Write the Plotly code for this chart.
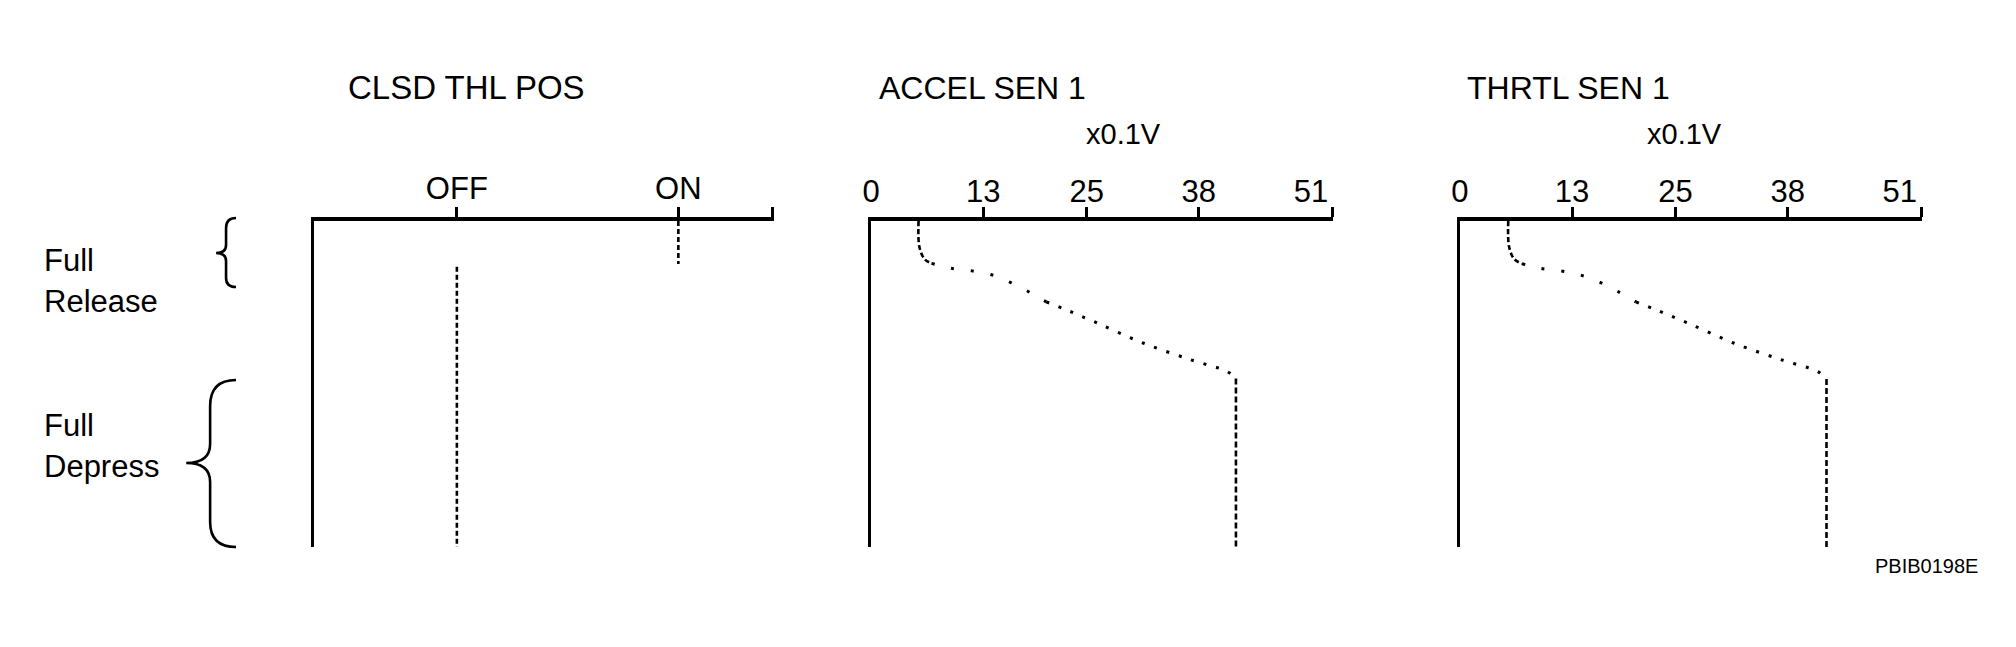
import plotly.graph_objects as go

# the page body keeps its default 8px margin, so the figure is drawn 8px in
OFF = 8
W, H = 2000, 631

# pedal stroke: 0 = full release (top), 100 = full depress (bottom)
clsd_state = [1, 0]          # 1 = ON, 0 = OFF
clsd_from = [0, 14.0]
clsd_to = [13.2, 100]
clsd_ticks = ["OFF", "ON"]

# sensor voltage in x0.1V vs pedal stroke
accel_v = [5.5, 5.6, 6.2, 7.0, 9.3, 11.7, 14.1, 16.2, 18.4, 20.3, 22.4, 26.3, 31.6, 37.1, 41.3, 42.3, 42.3]
accel_pos = [0, 8.0, 11.7, 13.0, 14.5, 15.3, 16.6, 18.9, 21.9, 24.8, 27.0, 31.4, 37.5, 42.6, 46.2, 48.3, 100]

thrtl_v = [5.6, 5.7, 6.3, 7.2, 9.3, 11.7, 14.0, 16.3, 18.5, 20.4, 22.5, 26.5, 31.8, 37.3, 41.5, 42.5, 42.5]
thrtl_pos = [0, 8.0, 11.7, 13.1, 14.5, 15.3, 16.6, 18.9, 21.9, 24.8, 27.0, 31.4, 37.5, 42.6, 46.2, 48.5, 100]

volt_ticks = [0, 13, 25, 38, 51]
volt_marks = [13, 25, 38]

FONT = "Liberation Sans, Arial, sans-serif"
BLACK = "black"


def px(x):
    return (x - OFF) / W


def py(y):
    return 1 - (y - OFF) / H


y_dom = [py(547), py(221)]

fig = go.Figure()

# CLSD THL POS switch lines
for s, a, b in zip(clsd_state, clsd_from, clsd_to):
    fig.add_trace(go.Scatter(x=[s, s], y=[a, b], mode="lines", xaxis="x", yaxis="y",
                             line=dict(color=BLACK, width=2.6, dash="5px,3px")))


def add_curve(v, pos, xa, ya):
    # dense dashes on the verticals, sparse dots on the slope
    parts = [(0, 4, "5px,3px", 2.6), (3, 10, "3px,17px", 3), (9, 16, "3px,10px", 3), (15, 17, "6px,3px", 2.6)]
    for i0, i1, dash, w in parts:
        fig.add_trace(go.Scatter(x=v[i0:i1], y=pos[i0:i1], mode="lines", xaxis=xa, yaxis=ya,
                                 line=dict(color=BLACK, width=w, dash=dash, shape="spline")))


add_curve(accel_v, accel_pos, "x2", "y2")
add_curve(thrtl_v, thrtl_pos, "x3", "y3")

v_end = (1330 - 866) / 8.663

tickfont = dict(family=FONT, size=31, color=BLACK)
common_x = dict(side="top", showgrid=False, zeroline=False, showline=True, linecolor=BLACK,
                linewidth=4, ticks="outside", ticklen=10, tickwidth=3, tickcolor=BLACK,
                tickfont=tickfont, ticklabelstandoff=-4)
label_x = dict(side="top", range=[0, v_end], showline=False, showgrid=False, zeroline=False,
               ticks="outside", ticklen=10, tickcolor="rgba(0,0,0,0)", tickmode="array",
               tickvals=volt_ticks, ticktext=[str(t) for t in volt_ticks], tickfont=tickfont,
               ticklabelstandoff=-4)
common_y = dict(domain=y_dom, range=[100, 0], showgrid=False, zeroline=False, showline=True,
                linecolor=BLACK, linewidth=3, ticks="", showticklabels=False)

p1 = [306, 768]
p2 = [866, 1330]
p3 = [1457.5, 1921.5]

fig.update_layout(
    xaxis=dict(domain=[px(p1[0]), px(p1[1])], range=[-0.6466, 1.43], anchor="y",
               tickmode="array", tickvals=[0, 1, 1.426], ticktext=clsd_ticks + [""], **common_x),
    yaxis=dict(anchor="x", **common_y),
    xaxis2=dict(domain=[px(p2[0]), px(p2[1])], range=[0, v_end], anchor="y2",
                tickmode="array", tickvals=volt_marks + [v_end - 0.05], ticktext=["", "", "", ""], **common_x),
    yaxis2=dict(anchor="x2", **common_y),
    xaxis3=dict(domain=[px(p3[0]), px(p3[1])], range=[0, v_end], anchor="y3",
                tickmode="array", tickvals=volt_marks + [v_end - 0.05], ticktext=["", "", "", ""], **common_x),
    yaxis3=dict(anchor="x3", **common_y),
    # label-only axes laid over the voltage scales
    xaxis4=dict(overlaying="x2", anchor="y2", **label_x),
    xaxis5=dict(overlaying="x3", anchor="y3", **label_x),
)

# invisible points so the overlay axes get drawn
fig.add_trace(go.Scatter(x=[0], y=[0], xaxis="x4", yaxis="y2", mode="markers",
                         marker=dict(opacity=0), hoverinfo="skip"))
fig.add_trace(go.Scatter(x=[0], y=[0], xaxis="x5", yaxis="y3", mode="markers",
                         marker=dict(opacity=0), hoverinfo="skip"))


def text(t, x, y, size, xanchor="center"):
    fig.add_annotation(text=t, x=px(x), y=py(y), xref="paper", yref="paper", showarrow=False,
                       xanchor=xanchor, yanchor="middle", font=dict(family=FONT, size=size, color=BLACK))


text("CLSD THL POS", 460, 88, 33)
text("ACCEL SEN 1", 978, 88, 32)
text("THRTL SEN 1", 1567, 88, 32)
text("x0.1V", 1120, 134, 29)
text("x0.1V", 1683, 134, 29)
text("Full", 33, 261, 31, "left")
text("Release", 33, 301, 31, "left")
text("Full", 33, 425, 31, "left")
text("Depress", 33, 466, 31, "left")
text("PBIB0198E", 1980, 566, 20, "right")


def path(cmds):
    out = []
    for c in cmds:
        if isinstance(c, str):
            out.append(c)
        else:
            out.append(f"{px(c[0]):.5f},{py(c[1]):.5f}")
    return " ".join(out)


brace1 = path(["M", (228, 218), "Q", (218, 218), (218, 228), "L", (218, 245), "Q", (218, 253), (208, 253),
               "Q", (218, 253), (218, 261), "L", (218, 278), "Q", (218, 287), (228, 287)])
brace2 = path(["M", (228, 380), "Q", (202, 380), (202, 406), "L", (202, 444), "Q", (202, 463), (178, 463),
               "Q", (202, 463), (202, 482), "L", (202, 522), "Q", (202, 547), (228, 547)])
for b in (brace1, brace2):
    fig.add_shape(type="path", path=b, xref="paper", yref="paper", line=dict(color=BLACK, width=2.6))

fig.update_layout(width=W, height=H, margin=dict(l=0, r=0, t=0, b=0), showlegend=False,
                  paper_bgcolor="white", plot_bgcolor="white")

fig.write_html("out.html")
